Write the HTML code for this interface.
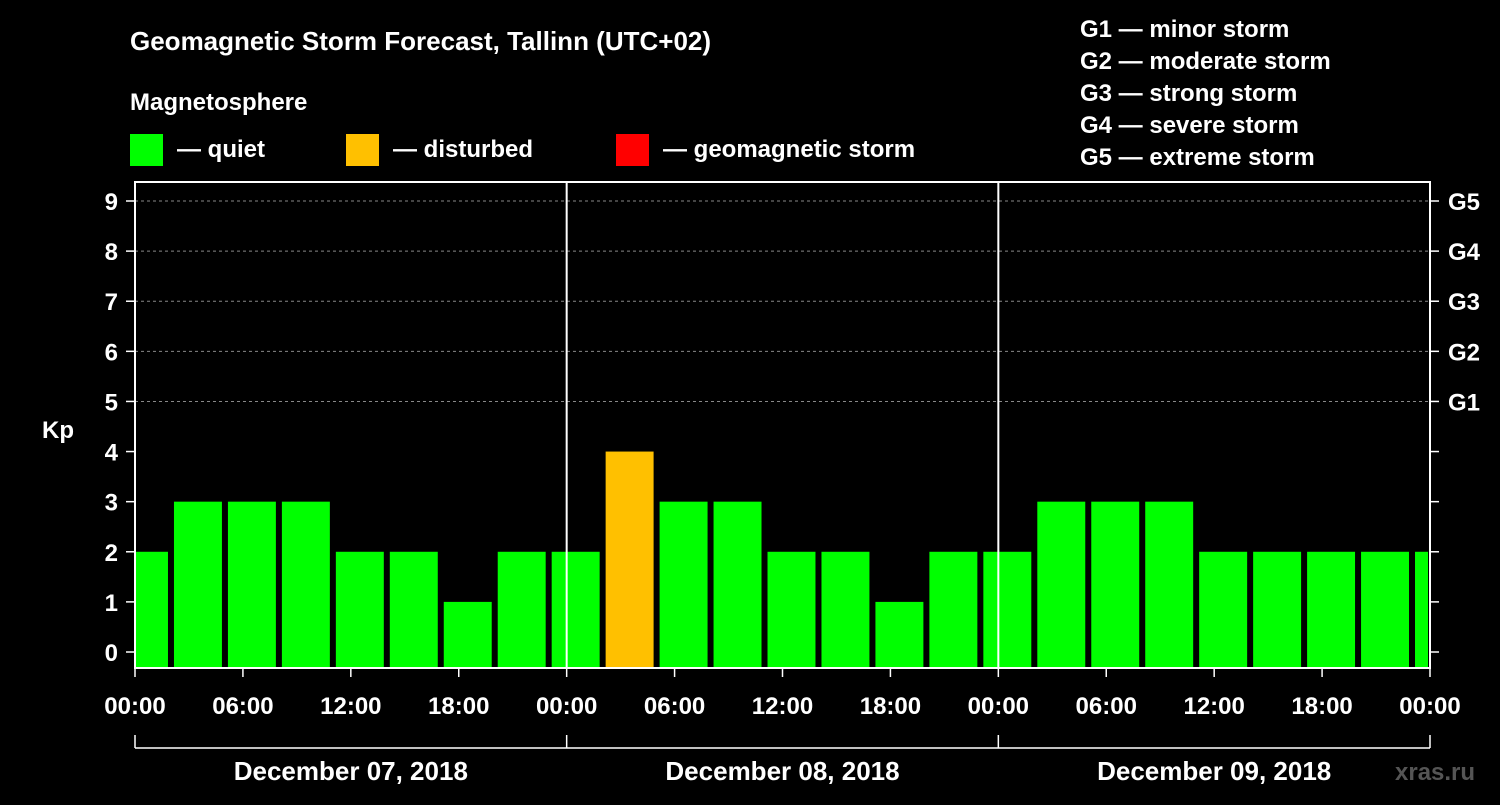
<!DOCTYPE html>
<html><head><meta charset="utf-8"><style>
body{margin:0;background:#000;}
svg text{font-family:"Liberation Sans",sans-serif;font-weight:bold;fill:#fff;}
</style></head><body>
<svg id="c" width="1500" height="800" xmlns="http://www.w3.org/2000/svg">
<rect width="1500" height="800" fill="#000"/>
<text x="130" y="50" font-size="26">Geomagnetic Storm Forecast, Tallinn (UTC+02)</text>
<text x="130" y="110" font-size="24">Magnetosphere</text>
<g><rect x="130" y="134" width="33" height="32" fill="#00ff00"/><text x="177" y="157" font-size="24">— quiet</text></g>
<g><rect x="346" y="134" width="33" height="32" fill="#ffc000"/><text x="393" y="157" font-size="24">— disturbed</text></g>
<g><rect x="616" y="134" width="33" height="32" fill="#ff0000"/><text x="663" y="157" font-size="24">— geomagnetic storm</text></g>
<g font-size="24">
<text x="1080" y="37">G1 — minor storm</text>
<text x="1080" y="69">G2 — moderate storm</text>
<text x="1080" y="101">G3 — strong storm</text>
<text x="1080" y="133">G4 — severe storm</text>
<text x="1080" y="165">G5 — extreme storm</text>
</g>
<text x="42" y="438" font-size="24">Kp</text>
<text x="1395" y="780" font-size="24" style="fill:#555">xras.ru</text>
<g id="plot"></g>
</svg>
<script>
const kpValues=[2,3,3,3,2,2,1,2,2,4,3,3,2,2,1,2,2,3,3,3,2,2,2,2,2];
const yTicks=[0,1,2,3,4,5,6,7,8,9];
const gLabels=["G1","G2","G3","G4","G5"];
const xTickLabels=["00:00","06:00","12:00","18:00","00:00","06:00","12:00","18:00","00:00","06:00","12:00","18:00","00:00"];
const dayLabels=["December 07, 2018","December 08, 2018","December 09, 2018"];
const startHour=-1, binHours=3, disturbedAt=4, stormAt=5;
const L=135,R=1430,T=182,B=668,totalH=72;
const x=h=>L+(R-L)*h/totalH;
const y=v=>652-(652-201)*v/9;
const NS="http://www.w3.org/2000/svg";
const g=document.getElementById('plot');
function mk(t,a){const e=document.createElementNS(NS,t);for(const k in a)e.setAttribute(k,a[k]);g.appendChild(e);return e;}
// grid
yTicks.forEach(v=>{
 if(v>=5){const l=mk('line',{x1:L,x2:R,y1:y(v),y2:y(v),stroke:'#888','stroke-dasharray':'3,3','stroke-width':1});
 
 }
 const t1=mk('line',{x1:L-9,x2:L,y1:y(v),y2:y(v),stroke:'#fff','stroke-width':1.5});
 
 
 const t2=mk('line',{x1:R,x2:R+9,y1:y(v),y2:y(v),stroke:'#fff','stroke-width':1.5});
 
 
 const lb=mk('text',{x:L-17,y:y(v)+9,'font-size':24,'text-anchor':'end'});lb.textContent=v;
 
 
});
gLabels.forEach((s,i)=>{const lb=mk('text',{x:R+18,y:y(5+i)+9,'font-size':24});lb.textContent=s;
 
 });
// bars
kpValues.forEach((v,i)=>{
 let h0=startHour+i*binHours,h1=h0+binHours;
 let x0=Math.max(x(h0)+3,L+1),x1=Math.min(x(h1)-3,R-2);
 const col=v>=stormAt?'#ff0000':v>=disturbedAt?'#ffc000':'#00ff00';
 const b=mk('rect',{x:x0,y:y(v),width:x1-x0,height:B-y(v),fill:col});
 
 
});
// frame
const f=mk('rect',{x:L,y:T,width:R-L,height:B-T,fill:'none',stroke:'#fff','stroke-width':2});


[24,48].forEach(h=>{const l=mk('line',{x1:x(h),x2:x(h),y1:T,y2:B,stroke:'#fff','stroke-width':2});
 
 });
xTickLabels.forEach((s,i)=>{
 const t=mk('line',{x1:x(i*6),x2:x(i*6),y1:B,y2:B+9,stroke:'#fff','stroke-width':1.5});
 
 
 const lb=mk('text',{x:x(i*6),y:714,'font-size':24,'text-anchor':'middle'});lb.textContent=s;
 
 
});
const br=mk('line',{x1:L,x2:R,y1:748,y2:748,stroke:'#fff','stroke-width':1.5});


[0,24,48,72].forEach(h=>{const l=mk('line',{x1:x(h),x2:x(h),y1:735,y2:748,stroke:'#fff','stroke-width':1.5});
 
 });
dayLabels.forEach((s,i)=>{const lb=mk('text',{x:x(i*24+12),y:780,'font-size':26,'text-anchor':'middle'});lb.textContent=s;
 
 });
</script>
</body></html>
